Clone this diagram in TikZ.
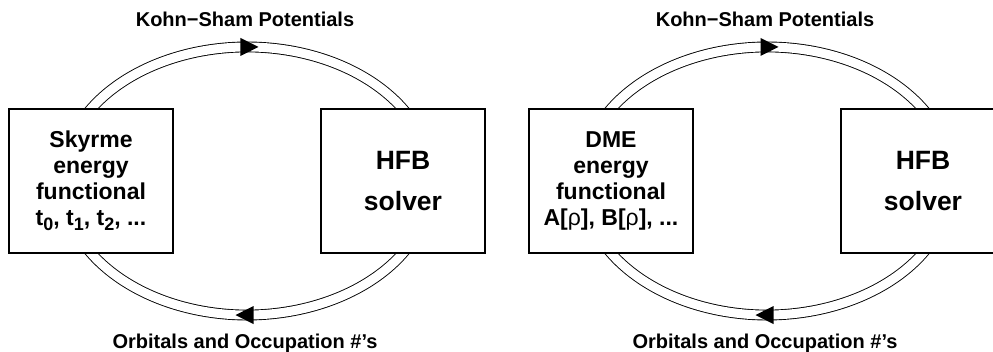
\documentclass[tikz,border=0pt]{standalone}
\usepackage{fontspec}
\setmainfont{Liberation Sans}
\usetikzlibrary{decorations.markings}
\usetikzlibrary{backgrounds}
\usetikzlibrary{calc}
\tikzset{
	ksbox/.style={draw, line width=1.5pt, fill=white, minimum width=164pt, minimum height=144pt, inner sep=0pt, align=center},
	ksloop/.style={line width=0.9pt, double, double distance=9pt, postaction={decorate},
		decoration={markings, mark=at position 0.5 with {\fill (-6.5pt,-9pt) -- (11.5pt,0pt) -- (-6.5pt,9pt) -- cycle;}}},
	kslabel/.style={font=\bfseries\fontsize{20}{24}\selectfont, anchor=base}
}
\newcommand{\kssub}[1] % lowered subscript digit
{\raisebox{-5.5pt}{\fontsize{18}{18}\selectfont #1}}
\newcommand{\kspanel}[3] % x offset in pt, node prefix, functional text
{
	% energy functional box
	\node[ksbox, font=\bfseries\fontsize{23}{25.7}\selectfont] (#2func) at (#1+91,170) {#3};
	% solver box
	\node[ksbox, font=\bfseries\fontsize{26.5}{41}\selectfont] (#2hfb) at (#1+403,170) {HFB\\solver};
	% self-consistent loop, drawn behind the boxes
	\coordinate (#2loop) at ($(#2func)!0.5!(#2hfb)$);
	\begin{pgfonlayer}{background}
		\draw[ksloop] (#2loop) ++(160:185 and 134) arc[start angle=160, end angle=20, x radius=185, y radius=134];
		\draw[ksloop] (#2loop) ++(-20:185 and 134) arc[start angle=-20, end angle=-160, x radius=185, y radius=134];
	\end{pgfonlayer}
	% labels
	\node[kslabel] (#2pot) at (#1+245,324.3) {Kohn−Sham Potentials};
	\node[kslabel] (#2orb) at (#1+245,3) {Orbitals and Occupation \#’s};
}
\begin{document}
\begin{tikzpicture}[x=1pt, y=1pt]
	\useasboundingbox (0,0) rectangle (993,351);
	% Skyrme panel
	\kspanel{0}{sk}{Skyrme\\energy\\functional\\t\kssub{0}, t\kssub{1}, t\kssub{2}, ...};
	% DME panel
	\kspanel{520}{dme}{DME\\energy\\functional\\A[{\mdseries ρ}], B[{\mdseries ρ}], ...};
\end{tikzpicture}
\end{document}
